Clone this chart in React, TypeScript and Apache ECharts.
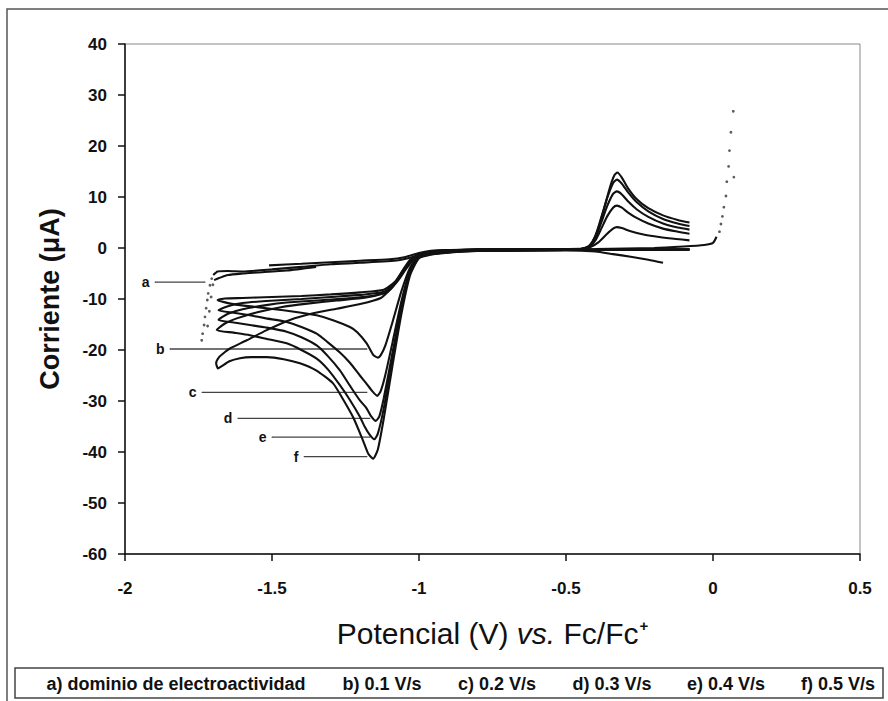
import React, { useEffect, useRef } from "react";
import * as echarts from "echarts";

const FONT = '"Liberation Sans", Arial, Helvetica, sans-serif';

// Axis ranges
const xRange = { min: -2, max: 0.5, interval: 0.5 };
const yRange = { min: -60, max: 40, interval: 10 };

// Legend labels (bottom box)
const legendLabels = [
  "a) dominio de electroactividad",
  "b) 0.1 V/s",
  "c) 0.2 V/s",
  "d) 0.3 V/s",
  "e) 0.4 V/s",
  "f) 0.5 V/s",
];

// a) electroactivity window
const aMain: number[][] = [
  [-1.51, -3.4], [-1.4, -3.1], [-1.3, -2.8], [-1.2, -2.5], [-1.1, -2.2], [-1.05, -1.8],
  [-1.0, -1.0], [-0.95, -0.5], [-0.8, -0.3], [-0.6, -0.25], [-0.4, -0.2], [-0.2, 0.0],
  [-0.1, 0.3], [-0.03, 0.6], [0.0, 1.0], [0.012, 2.2],
];
const aBranch: number[][] = [
  [-0.17, -2.9], [-0.22, -2.3], [-0.28, -1.7], [-0.34, -1.2], [-0.4, -0.7], [-0.5, -0.5],
  [-0.7, -0.5], [-0.9, -0.8], [-1.0, -1.5], [-1.07, -2.4], [-1.2, -2.9], [-1.3, -3.2],
  [-1.4, -3.7], [-1.5, -4.2], [-1.6, -4.6], [-1.65, -4.5], [-1.685, -4.6], [-1.7, -5.3],
];
const aReturn: number[][] = [
  [-1.697, -6.3], [-1.68, -5.9], [-1.65, -5.3], [-1.6, -5.0], [-1.55, -4.8], [-1.45, -4.4], [-1.35, -3.7],
];
const aDotsLeft: number[][] = [
  [-1.705, -6.0], [-1.711, -7.3], [-1.717, -8.9], [-1.72, -10.2], [-1.724, -11.8],
  [-1.728, -13.5], [-1.731, -15.1], [-1.736, -16.8], [-1.739, -18.1],
  [-1.701, -7.2], [-1.707, -9.6], [-1.713, -12.4], [-1.719, -15.3],
];
const aDotsRight: number[][] = [
  [0.022, 3.2], [0.027, 4.7], [0.032, 6.2], [0.037, 8.0], [0.044, 10.2], [0.047, 13.0],
  [0.053, 16.0], [0.056, 19.1], [0.061, 22.7], [0.069, 26.8], [0.071, 13.9],
];

// b) 0.1 V/s
const bForward: number[][] = [
  [-0.08, -0.3], [-0.2, -0.3], [-0.4, -0.35], [-0.6, -0.4], [-0.8, -0.5], [-0.9, -0.7],
  [-0.96, -1.0], [-1.0, -1.6], [-1.03, -3.8], [-1.06, -8.5], [-1.09, -14.5], [-1.115, -19.2],
  [-1.13, -21.0], [-1.14, -21.5], [-1.155, -21.0], [-1.178, -18.7], [-1.21, -16.5],
  [-1.235, -15.5], [-1.29, -14.2], [-1.348, -13.2], [-1.4, -12.7], [-1.461, -12.2],
  [-1.55, -11.6], [-1.632, -11.0], [-1.685, -10.2],
];
const bReverse: number[][] = [
  [-1.66, -9.9], [-1.6, -9.8], [-1.5, -9.6], [-1.4, -9.4], [-1.3, -9.1], [-1.2, -8.7],
  [-1.12, -8.2], [-1.08, -6.5], [-1.05, -4.0], [-1.02, -2.0], [-1.0, -1.3], [-0.95, -0.6],
  [-0.8, -0.3], [-0.6, -0.25], [-0.45, -0.2], [-0.42, 0.1], [-0.39, 1.1], [-0.36, 2.8],
  [-0.34, 3.8], [-0.327, 4.1], [-0.31, 3.9], [-0.28, 3.3], [-0.24, 2.7], [-0.2, 2.3],
  [-0.15, 1.9], [-0.08, 1.5],
];

// c) 0.2 V/s
const cForward: number[][] = [
  [-0.08, -0.3], [-0.4, -0.35], [-0.8, -0.5], [-0.9, -0.7], [-0.96, -1.0], [-1.0, -1.7],
  [-1.03, -4.2], [-1.06, -10.5], [-1.09, -18.5], [-1.115, -25.0], [-1.13, -28.0],
  [-1.142, -29.0], [-1.16, -28.0], [-1.18, -26.5], [-1.201, -25.0], [-1.235, -22.5],
  [-1.269, -20.5], [-1.31, -18.5], [-1.348, -16.8], [-1.4, -15.5], [-1.45, -14.5],
  [-1.52, -13.8], [-1.575, -13.2], [-1.63, -12.7], [-1.682, -12.2],
];
const cReverse: number[][] = [
  [-1.65, -11.4], [-1.6, -10.8], [-1.52, -10.4], [-1.4, -10.0], [-1.3, -9.6], [-1.2, -9.2],
  [-1.12, -8.6], [-1.08, -6.8], [-1.05, -4.2], [-1.02, -2.0], [-1.0, -1.3], [-0.95, -0.6],
  [-0.8, -0.3], [-0.6, -0.25], [-0.45, -0.2], [-0.42, 0.3], [-0.4, 1.5], [-0.38, 3.8],
  [-0.36, 6.2], [-0.34, 7.9], [-0.327, 8.3], [-0.31, 7.9], [-0.29, 7.0], [-0.26, 5.9],
  [-0.22, 4.8], [-0.17, 3.8], [-0.12, 3.2], [-0.08, 2.8],
];

// d) 0.3 V/s
const dForward: number[][] = [
  [-0.08, -0.3], [-0.4, -0.35], [-0.8, -0.55], [-0.9, -0.8], [-0.96, -1.1], [-1.0, -1.8],
  [-1.03, -4.6], [-1.06, -11.5], [-1.09, -20.5], [-1.12, -29.5], [-1.135, -33.0],
  [-1.147, -33.9], [-1.165, -32.8], [-1.18, -31.3], [-1.201, -29.9], [-1.235, -27.0],
  [-1.269, -24.0], [-1.31, -21.2], [-1.348, -19.1], [-1.4, -17.5], [-1.45, -16.4],
  [-1.52, -15.6], [-1.575, -15.1], [-1.63, -14.6], [-1.682, -14.1],
];
const dReverse: number[][] = [
  [-1.65, -12.9], [-1.6, -12.0], [-1.52, -11.2], [-1.45, -10.7], [-1.35, -10.3],
  [-1.25, -9.9], [-1.15, -9.3], [-1.1, -8.2], [-1.07, -6.3], [-1.04, -3.8], [-1.01, -1.8],
  [-0.97, -0.8], [-0.8, -0.3], [-0.6, -0.25], [-0.45, -0.2], [-0.42, 0.4], [-0.4, 2.0],
  [-0.38, 5.0], [-0.36, 8.2], [-0.34, 10.6], [-0.327, 11.1], [-0.31, 10.5], [-0.29, 9.2],
  [-0.26, 7.6], [-0.22, 6.1], [-0.17, 4.8], [-0.12, 4.0], [-0.08, 3.6],
];

// e) 0.4 V/s
const eForward: number[][] = [
  [-0.08, -0.3], [-0.4, -0.35], [-0.8, -0.55], [-0.9, -0.8], [-0.96, -1.2], [-1.0, -1.9],
  [-1.03, -4.8], [-1.06, -12.0], [-1.09, -21.5], [-1.12, -31.5], [-1.14, -36.4],
  [-1.152, -37.5], [-1.168, -36.6], [-1.185, -35.0], [-1.201, -33.1], [-1.235, -29.8],
  [-1.269, -26.9], [-1.31, -23.8], [-1.348, -21.7], [-1.4, -20.0], [-1.45, -18.7],
  [-1.52, -17.8], [-1.575, -17.1], [-1.63, -16.6], [-1.688, -16.1],
];
const eReverse: number[][] = [
  [-1.66, -14.8], [-1.62, -13.8], [-1.55, -12.6], [-1.47, -11.6], [-1.38, -10.9],
  [-1.28, -10.3], [-1.18, -9.7], [-1.11, -8.7], [-1.08, -6.8], [-1.05, -4.3], [-1.02, -2.0],
  [-0.98, -0.9], [-0.8, -0.3], [-0.6, -0.25], [-0.45, -0.2], [-0.42, 0.5], [-0.4, 2.4],
  [-0.38, 6.0], [-0.36, 9.8], [-0.34, 12.7], [-0.327, 13.4], [-0.31, 12.6], [-0.29, 11.0],
  [-0.26, 9.0], [-0.22, 7.2], [-0.17, 5.7], [-0.12, 4.8], [-0.08, 4.3],
];

// f) 0.5 V/s
const fForward: number[][] = [
  [-0.08, -0.3], [-0.4, -0.35], [-0.8, -0.6], [-0.9, -0.9], [-0.96, -1.3], [-1.0, -2.0],
  [-1.03, -5.3], [-1.06, -13.0], [-1.09, -23.0], [-1.12, -33.5], [-1.14, -39.5],
  [-1.156, -41.3], [-1.172, -40.4], [-1.19, -37.8], [-1.224, -33.2], [-1.26, -29.5],
  [-1.293, -26.5], [-1.35, -24.0], [-1.405, -22.6], [-1.46, -21.8], [-1.517, -21.4],
  [-1.57, -21.4], [-1.609, -21.6], [-1.645, -22.2], [-1.672, -23.2], [-1.684, -23.6],
];
const fReverse: number[][] = [
  [-1.69, -22.6], [-1.68, -21.4], [-1.66, -20.4], [-1.643, -19.7], [-1.586, -18.1],
  [-1.518, -16.1], [-1.439, -14.1], [-1.36, -12.8], [-1.28, -11.9], [-1.2, -11.0],
  [-1.13, -9.8], [-1.09, -7.6], [-1.06, -4.8], [-1.03, -2.3], [-0.99, -1.0], [-0.9, -0.5],
  [-0.7, -0.3], [-0.5, -0.2], [-0.43, 0.0], [-0.41, 1.2], [-0.39, 3.8], [-0.37, 7.8],
  [-0.35, 12.0], [-0.335, 14.3], [-0.325, 14.8], [-0.31, 13.8], [-0.29, 11.8], [-0.26, 9.6],
  [-0.22, 7.8], [-0.17, 6.4], [-0.12, 5.5], [-0.08, 5.0],
];

// Curve annotation leaders: [label, xStart, xEnd, y]
const leaderLabels = ["a", "b", "c", "d", "e", "f"];
const leaderXStart = [-1.898, -1.847, -1.738, -1.616, -1.5, -1.391];
const leaderXEnd = [-1.728, -1.177, -1.177, -1.167, -1.167, -1.177];
const leaderY = [-6.7, -19.8, -28.3, -33.4, -37.1, -40.9];

const legendCenters = [176, 382, 497, 612, 726, 838];

export default function App() {
  const ref = useRef<HTMLDivElement>(null);

  useEffect(() => {
    if (!ref.current) return;
    const chart = echarts.init(ref.current, undefined, { renderer: "svg" });

    const curve = (name: string, data: number[][]) => ({
      type: "line",
      name,
      data,
      symbol: "none",
      smooth: 0.2,
      silent: true,
      lineStyle: { color: "#111", width: 2.1 },
      z: 3,
    });

    const series: any[] = [
      curve(legendLabels[0], aMain),
      curve(legendLabels[0] + " (2)", aBranch),
      curve(legendLabels[0] + " (3)", aReturn),
      {
        type: "scatter",
        name: "a dots left",
        data: aDotsLeft,
        symbolSize: 2.8,
        silent: true,
        itemStyle: { color: "#333" },
      },
      {
        type: "scatter",
        name: "a dots right",
        data: aDotsRight,
        symbolSize: 2.8,
        silent: true,
        itemStyle: { color: "#333" },
      },
      curve(legendLabels[1], [...bForward, ...bReverse]),
      curve(legendLabels[2], [...cForward, ...cReverse]),
      curve(legendLabels[3], [...dForward, ...dReverse]),
      curve(legendLabels[4], [...eForward, ...eReverse]),
      curve(legendLabels[5], [...fForward, ...fReverse]),
    ];

    leaderLabels.forEach((lab, i) => {
      series.push({
        type: "line",
        name: "leader " + lab,
        silent: true,
        symbol: "circle",
        symbolSize: 1,
        showSymbol: true,
        itemStyle: { color: "#444" },
        lineStyle: { color: "#444", width: 1.3 },
        z: 2,
        data: [
          {
            value: [leaderXStart[i], leaderY[i]],
            label: {
              show: true,
              position: "left",
              distance: 5,
              formatter: lab,
              fontFamily: FONT,
              fontWeight: "bold",
              fontSize: 14,
              color: "#111",
            },
          },
          { value: [leaderXEnd[i], leaderY[i]], label: { show: false } },
        ],
      });
    });

    const graphic: any[] = [
      {
        type: "rect",
        silent: true,
        shape: { x: 7, y: 9, width: 895, height: 730 },
        style: { fill: "none", stroke: "#555", lineWidth: 1.5 },
      },
      {
        type: "rect",
        silent: true,
        shape: { x: 15, y: 668, width: 868, height: 30 },
        style: { fill: "none", stroke: "#444", lineWidth: 1.5 },
      },
      ...legendLabels.map((t, i) => ({
        type: "text",
        silent: true,
        x: legendCenters[i],
        y: 684,
        style: {
          text: t,
          fontFamily: FONT,
          fontWeight: "bold",
          fontSize: 18,
          fill: "#111",
          align: "center",
          verticalAlign: "middle",
        },
      })),
    ];

    chart.setOption({
      animation: false,
      backgroundColor: "#fff",
      grid: {
        left: 125,
        right: 28,
        top: 44,
        bottom: 147,
        show: true,
        borderColor: "#888",
        borderWidth: 1,
      },
      xAxis: {
        type: "value",
        min: xRange.min,
        max: xRange.max,
        interval: xRange.interval,
        name: "{n|Potencial (V) }{i|vs.}{n| Fc/Fc}{s|+}",
        nameLocation: "middle",
        nameGap: 64,
        nameTextStyle: {
          rich: {
            n: { fontFamily: FONT, fontSize: 30, color: "#111" },
            i: { fontFamily: FONT, fontSize: 30, fontStyle: "italic", color: "#111" },
            s: { fontFamily: FONT, fontSize: 15, fontWeight: "bold", color: "#111", verticalAlign: "top", padding: [0, 0, 0, 1] },
          },
        },
        axisLine: { show: true, onZero: false, lineStyle: { color: "#111", width: 1.5 } },
        axisTick: { show: true, inside: false, length: 7, lineStyle: { color: "#111", width: 1.5 } },
        axisLabel: {
          fontFamily: FONT,
          fontWeight: "bold",
          fontSize: 17,
          color: "#111",
          margin: 26,
        },
        splitLine: { show: false },
      },
      yAxis: {
        type: "value",
        min: yRange.min,
        max: yRange.max,
        interval: yRange.interval,
        name: "Corriente (μA)",
        nameLocation: "middle",
        nameRotate: 90,
        nameGap: 62,
        nameTextStyle: { fontFamily: FONT, fontWeight: "bold", fontSize: 27, color: "#111" },
        axisLine: { show: true, onZero: false, lineStyle: { color: "#111", width: 1.5 } },
        axisTick: { show: true, inside: false, length: 7, lineStyle: { color: "#111", width: 1.5 } },
        axisLabel: {
          fontFamily: FONT,
          fontWeight: "bold",
          fontSize: 17,
          color: "#111",
          margin: 18,
        },
        splitLine: { show: false },
      },
      graphic,
      series,
    });

    return () => chart.dispose();
  }, []);

  return (
    <div
      ref={ref}
      style={{ position: "absolute", left: 0, top: 0, width: 888, height: 701, background: "#fff" }}
    />
  );
}
